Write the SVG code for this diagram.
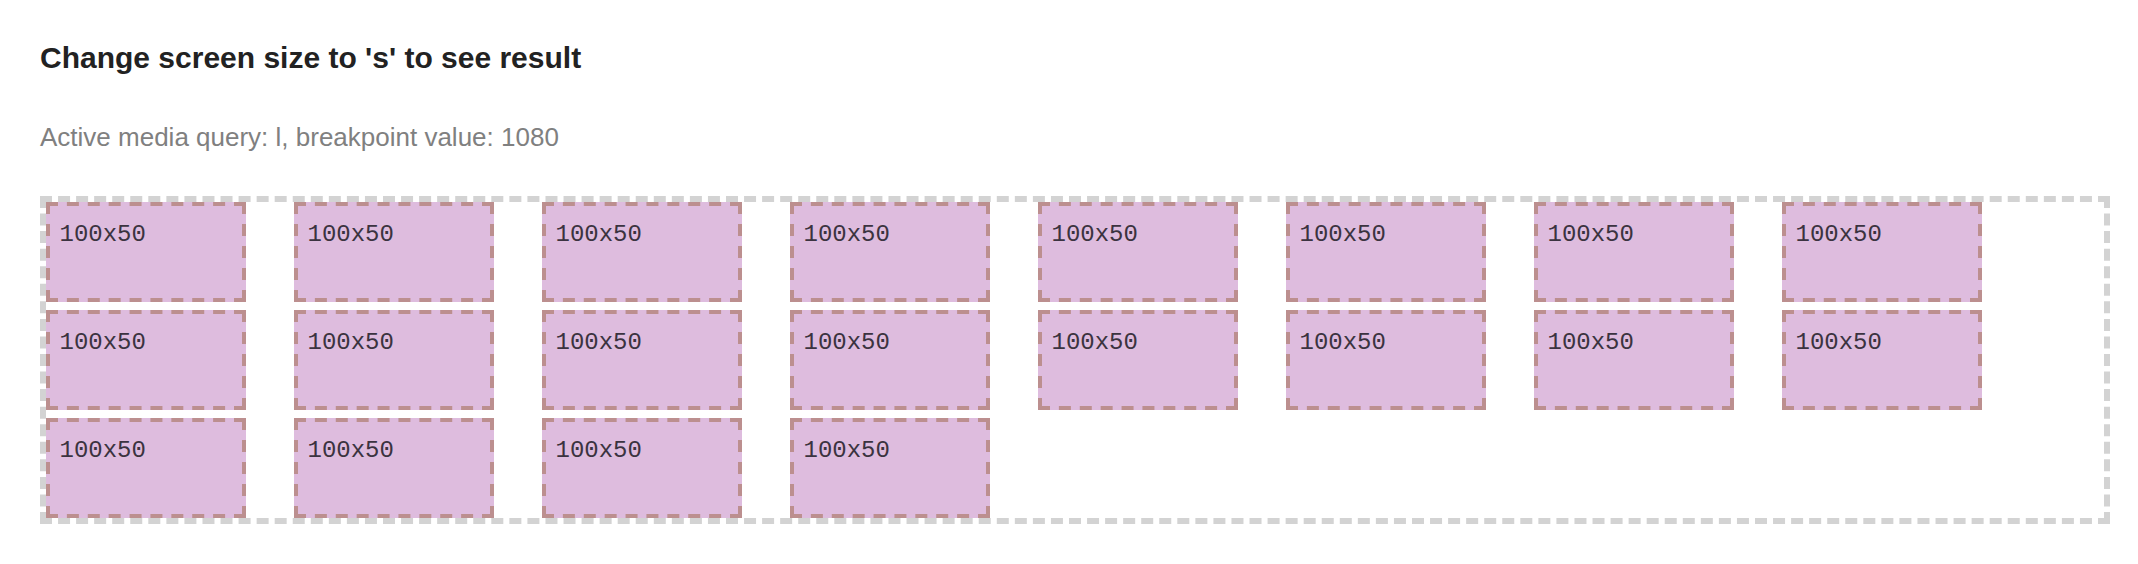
<svg xmlns="http://www.w3.org/2000/svg" xmlns:xlink="http://www.w3.org/1999/xlink" width="2138" height="564" viewBox="0 0 2138 564">
<style>
.title{font-family:"Liberation Sans",Arial,sans-serif;font-weight:bold;font-size:30px;fill:#222222}
.sub{font-family:"Liberation Sans",Arial,sans-serif;font-size:26px;fill:#808080}
.lbl{font-family:"Liberation Mono","Courier New",monospace;font-size:24px;fill:#3b3340}
.hb{stroke:#BC8F8F;stroke-width:4;stroke-dasharray:12 8.889}
.vb{stroke:#BC8F8F;stroke-width:4;stroke-dasharray:12 10}
.ch{stroke:#D3D3D3;stroke-width:6;stroke-dasharray:12 6.0526}
.cv{stroke:#D3D3D3;stroke-width:6;stroke-dasharray:12 5.5556}
</style>
<defs>
<g id="boxshape">
<rect x="0" y="0" width="200" height="100" fill="#DEBCDE"/>
<line class="hb" x1="0" y1="2" x2="200" y2="2"/>
<line class="hb" x1="0" y1="98" x2="200" y2="98"/>
<line class="vb" x1="2" y1="0" x2="2" y2="100"/>
<line class="vb" x1="198" y1="0" x2="198" y2="100"/>
</g>
</defs>
<rect width="2138" height="564" fill="#ffffff"/>
<text class="title" x="40" y="68">Change screen size to 's' to see result</text>
<text class="sub" x="40" y="146">Active media query: l, breakpoint value: 1080</text>
<g id="container">
<line class="ch" x1="40" y1="199" x2="2110" y2="199"/>
<line class="ch" x1="40" y1="521" x2="2110" y2="521"/>
<line class="cv" x1="43" y1="196" x2="43" y2="524"/>
<line class="cv" x1="2107" y1="196" x2="2107" y2="524"/>
</g>
<g id="box-1" transform="translate(46,202)"><use xlink:href="#boxshape"/><text class="lbl" x="13.5" y="39">100x50</text></g>
<g id="box-2" transform="translate(294,202)"><use xlink:href="#boxshape"/><text class="lbl" x="13.5" y="39">100x50</text></g>
<g id="box-3" transform="translate(542,202)"><use xlink:href="#boxshape"/><text class="lbl" x="13.5" y="39">100x50</text></g>
<g id="box-4" transform="translate(790,202)"><use xlink:href="#boxshape"/><text class="lbl" x="13.5" y="39">100x50</text></g>
<g id="box-5" transform="translate(1038,202)"><use xlink:href="#boxshape"/><text class="lbl" x="13.5" y="39">100x50</text></g>
<g id="box-6" transform="translate(1286,202)"><use xlink:href="#boxshape"/><text class="lbl" x="13.5" y="39">100x50</text></g>
<g id="box-7" transform="translate(1534,202)"><use xlink:href="#boxshape"/><text class="lbl" x="13.5" y="39">100x50</text></g>
<g id="box-8" transform="translate(1782,202)"><use xlink:href="#boxshape"/><text class="lbl" x="13.5" y="39">100x50</text></g>
<g id="box-9" transform="translate(46,310)"><use xlink:href="#boxshape"/><text class="lbl" x="13.5" y="39">100x50</text></g>
<g id="box-10" transform="translate(294,310)"><use xlink:href="#boxshape"/><text class="lbl" x="13.5" y="39">100x50</text></g>
<g id="box-11" transform="translate(542,310)"><use xlink:href="#boxshape"/><text class="lbl" x="13.5" y="39">100x50</text></g>
<g id="box-12" transform="translate(790,310)"><use xlink:href="#boxshape"/><text class="lbl" x="13.5" y="39">100x50</text></g>
<g id="box-13" transform="translate(1038,310)"><use xlink:href="#boxshape"/><text class="lbl" x="13.5" y="39">100x50</text></g>
<g id="box-14" transform="translate(1286,310)"><use xlink:href="#boxshape"/><text class="lbl" x="13.5" y="39">100x50</text></g>
<g id="box-15" transform="translate(1534,310)"><use xlink:href="#boxshape"/><text class="lbl" x="13.5" y="39">100x50</text></g>
<g id="box-16" transform="translate(1782,310)"><use xlink:href="#boxshape"/><text class="lbl" x="13.5" y="39">100x50</text></g>
<g id="box-17" transform="translate(46,418)"><use xlink:href="#boxshape"/><text class="lbl" x="13.5" y="39">100x50</text></g>
<g id="box-18" transform="translate(294,418)"><use xlink:href="#boxshape"/><text class="lbl" x="13.5" y="39">100x50</text></g>
<g id="box-19" transform="translate(542,418)"><use xlink:href="#boxshape"/><text class="lbl" x="13.5" y="39">100x50</text></g>
<g id="box-20" transform="translate(790,418)"><use xlink:href="#boxshape"/><text class="lbl" x="13.5" y="39">100x50</text></g>
</svg>
